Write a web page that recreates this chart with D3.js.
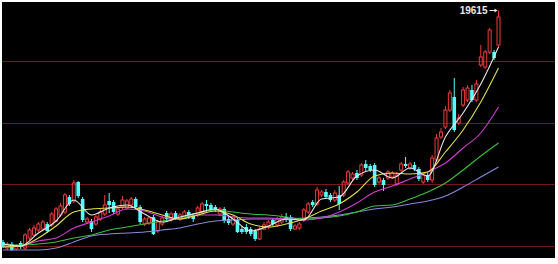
<!DOCTYPE html>
<html>
<head>
<meta charset="utf-8">
<script src="https://cdn.jsdelivr.net/npm/d3@7/dist/d3.min.js"></script>
<style>
  html, body { margin: 0; padding: 0; background: #fff; }
  svg { display: block; }
</style>
</head>
<body>
<div class="container"></div>
<script>
/* globals d3 */
// daily candles
const opens = [12670, 12490, 12610, 12460, 12640, 12490, 12790, 12880, 13030, 13060,
  13210, 13180, 13300, 13480, 13570, 14020, 13900, 14470, 13960, 13270,
  13300, 13210, 13360, 13510, 13900, 13870, 13510, 13720, 13690, 13780,
  13960, 13720, 13210, 13240, 13420, 13000, 13210, 13540, 13330, 13540,
  13360, 13420, 13570, 13480, 13480, 13570, 13810, 13780, 13720, 13510,
  13660, 13360, 13210, 13330, 13060, 13120, 13060, 13000, 12760, 13060,
  13120, 13330, 13180, 13270, 13420, 13420, 13060, 13090, 13330, 13570,
  13870, 13810, 14080, 14170, 14080, 13930, 14080, 14080, 14440, 14590,
  14740, 14680, 15010, 14950, 14980, 14470, 14530, 14590, 14620, 14410,
  14830, 15010, 14890, 14980, 14860, 14470, 14680, 14530, 15130, 15820,
  16120, 16630, 17020, 16240, 16780, 16930, 17230, 16930, 17980, 17920,
  18370, 18370, 18580];
const closes = [12520, 12610, 12430, 12550, 12520, 12880, 13030, 13090, 13210, 13270,
  13000, 13510, 13660, 13750, 14080, 13810, 14440, 14050, 13330, 13360,
  13060, 13420, 13570, 13780, 13780, 13570, 13660, 13930, 13900, 13960,
  13720, 13270, 13360, 13390, 12910, 13270, 13390, 13360, 13510, 13390,
  13480, 13570, 13420, 13360, 13690, 13810, 13750, 13660, 13630, 13660,
  13300, 13240, 13420, 12970, 12970, 12970, 12910, 12760, 13060, 13180,
  13270, 13210, 13360, 13420, 13330, 13060, 13150, 13210, 13630, 13810,
  13780, 14230, 14170, 14020, 13930, 14140, 13810, 14470, 14770, 14710,
  14590, 14980, 14890, 14830, 14380, 14590, 14380, 14770, 14740, 14680,
  15010, 14950, 15010, 14860, 14560, 14680, 14530, 15190, 15790, 15970,
  16630, 17140, 16030, 16390, 17230, 17290, 16930, 17410, 18220, 18370,
  19030, 18190, 19420];
const highs = [12730, 12670, 12670, 12610, 12700, 12940, 13090, 13180, 13270, 13330,
  13270, 13570, 13720, 13840, 14140, 14080, 14530, 14500, 14020, 13420,
  13360, 13480, 13660, 14080, 14140, 13930, 13720, 14050, 13960, 14020,
  14020, 13780, 13420, 13450, 13480, 13330, 13450, 13600, 13570, 13600,
  13540, 13630, 13630, 13540, 13750, 13870, 13930, 13840, 13780, 13720,
  13720, 13420, 13480, 13390, 13150, 13210, 13120, 13060, 13120, 13270,
  13330, 13390, 13420, 13510, 13540, 13480, 13210, 13270, 13690, 13870,
  13930, 14320, 14230, 14260, 14140, 14230, 14350, 14530, 14830, 14770,
  14830, 15040, 15130, 15010, 15040, 14650, 14590, 14830, 14800, 14770,
  15070, 15220, 15070, 15070, 14920, 14740, 14740, 15280, 15910, 16090,
  16750, 17230, 17590, 16510, 17320, 17380, 17380, 17530, 18580, 18430,
  19090, 18430, 19615];
const lows = [12490, 12430, 12400, 12430, 12460, 12430, 12730, 12850, 12970, 13000,
  12940, 13120, 13270, 13420, 13510, 13750, 13840, 13990, 13270, 13210,
  12970, 13150, 13300, 13450, 13540, 13510, 13450, 13660, 13630, 13720,
  13660, 13210, 13150, 13180, 12880, 12940, 13150, 13300, 13270, 13330,
  13300, 13360, 13360, 13270, 13420, 13540, 13570, 13600, 13570, 13450,
  13240, 13180, 13150, 12940, 12910, 12910, 12850, 12700, 12730, 13030,
  13060, 13150, 13120, 13210, 13270, 13000, 13030, 13030, 13270, 13510,
  13720, 13750, 14020, 13960, 13870, 13870, 13630, 14020, 14380, 14530,
  14530, 14620, 14770, 14770, 14320, 14410, 14200, 14530, 14560, 14350,
  14770, 14890, 14830, 14800, 14500, 14410, 14470, 14440, 15070, 15760,
  16060, 16570, 15970, 16180, 16720, 16870, 16870, 16870, 17920, 17860,
  18310, 18130, 18520];

// moving averages, sampled every 4th candle
const maIndex = d3.range(0, 113, 4);
const ma5 = [12610, 12550, 12940, 13300, 13930, 13480, 13690, 13780, 13510, 13270,
  13420, 13540, 13660, 13360, 13000, 13150, 13360, 13330, 13960, 14020,
  14650, 14830, 14590, 14890, 14650, 15820, 16540, 17410, 18520];
const ma10 = [12520, 12550, 12790, 13150, 13570, 13660, 13690, 13720, 13630, 13480,
  13360, 13480, 13600, 13480, 13210, 13120, 13210, 13360, 13600, 13810,
  14170, 14650, 14740, 14710, 14770, 15370, 16030, 16870, 17890];
const ma20 = [12520, 12550, 12700, 12790, 13090, 13270, 13450, 13660, 13600, 13420,
  13360, 13480, 13480, 13420, 13390, 13390, 13360, 13330, 13390, 13570,
  13840, 14170, 14350, 14560, 14770, 15040, 15490, 15940, 16720];
const ma30 = [12580, 12580, 12610, 12670, 12790, 12880, 13030, 13120, 13210, 13300,
  13390, 13540, 13630, 13570, 13510, 13480, 13420, 13360, 13390, 13450,
  13570, 13750, 13780, 13960, 14170, 14440, 14830, 15250, 15640];
const ma60 = [12430, 12430, 12430, 12490, 12670, 12850, 12910, 12940, 12970, 13030,
  13090, 13210, 13300, 13330, 13360, 13360, 13360, 13390, 13420, 13480,
  13570, 13660, 13720, 13810, 13900, 14050, 14320, 14620, 14920];

// horizontal guide levels
const gridLevels = [12550, 14400, 16250, 18100];
const peakLabel = '19615';

const colors = {
  up: '#f03a3a',
  down: '#54ffff',
  grid: '#761818',
  ma: ['#e6e6e6', '#e3e04a', '#d23cd2', '#3cbf3c', '#8a86dc']
};

const svg = d3.select('.container')
  .append('svg')
  .attr('width', 558)
  .attr('height', 264);

// black chart panel inside a thin white frame
svg.append('rect')
  .attr('x', 2)
  .attr('y', 2)
  .attr('width', 553)
  .attr('height', 256)
  .attr('fill', '#000');

const n = opens.length;
const x = d3.scaleLinear()
  .domain([0, n - 1])
  .range([3, 498.5]);
const y = d3.scaleLinear()
  .domain([12550, 18100])
  .range([246, 61]);

// grid lines as 1px strips
svg.append('g')
  .selectAll('rect')
  .data(gridLevels)
  .enter()
  .append('rect')
  .attr('x', 2)
  .attr('width', 553)
  .attr('y', d => Math.round(y(d)))
  .attr('height', 1)
  .attr('fill', colors.grid);

const candles = d3.range(n).map(i => ({
  i, o: opens[i], c: closes[i], h: highs[i], l: lows[i]
}));

const candleGroup = svg.append('g');

candles.forEach((d) => {
  const cx = x(d.i);
  const up = d.c >= d.o;
  const top = y(Math.max(d.o, d.c));
  const bottom = y(Math.min(d.o, d.c));
  const col = up ? colors.up : colors.down;

  if (up) {
    // hollow body, wick stops at the body
    candleGroup.append('line')
      .attr('x1', cx).attr('x2', cx)
      .attr('y1', y(d.h)).attr('y2', top)
      .attr('stroke', col);
    candleGroup.append('line')
      .attr('x1', cx).attr('x2', cx)
      .attr('y1', bottom).attr('y2', y(d.l))
      .attr('stroke', col);
    candleGroup.append('rect')
      .attr('x', cx - 1.5)
      .attr('y', top)
      .attr('width', 3)
      .attr('height', Math.max(bottom - top, 1))
      .attr('fill', 'none')
      .attr('stroke', col);
  } else {
    candleGroup.append('line')
      .attr('x1', cx).attr('x2', cx)
      .attr('y1', y(d.h)).attr('y2', y(d.l))
      .attr('stroke', col);
    candleGroup.append('rect')
      .attr('x', cx - 1.8)
      .attr('y', top)
      .attr('width', 3.6)
      .attr('height', Math.max(bottom - top, 1.5))
      .attr('fill', col);
  }
});

// moving average lines
const line = d3.line()
  .x((d, k) => x(maIndex[k]))
  .y(d => y(d))
  .curve(d3.curveMonotoneX);

svg.append('g')
  .selectAll('path')
  .data([ma60, ma30, ma20, ma10, ma5])
  .enter()
  .append('path')
  .attr('d', line)
  .attr('fill', 'none')
  .attr('stroke-width', 1.1)
  .attr('stroke', (d, k) => colors.ma[4 - k]);

// label of the top price with its arrow
const px = x(n - 1);
const py = y(d3.max(highs));
svg.append('text')
  .attr('x', px - 11)
  .attr('y', py + 3.5)
  .attr('text-anchor', 'end')
  .attr('fill', '#e8e8e8')
  .style('font', 'bold 10px "Liberation Sans", Arial, sans-serif')
  .text(peakLabel);

svg.append('line')
  .attr('x1', px - 9)
  .attr('x2', px - 2)
  .attr('y1', Math.round(py) + 0.5)
  .attr('y2', Math.round(py) + 0.5)
  .attr('stroke', '#e8e8e8');
svg.append('path')
  .attr('d', `M${px - 1},${Math.round(py) + 0.5} l-3,-2 v4 z`)
  .attr('fill', '#e8e8e8');
</script>
</body>
</html>
